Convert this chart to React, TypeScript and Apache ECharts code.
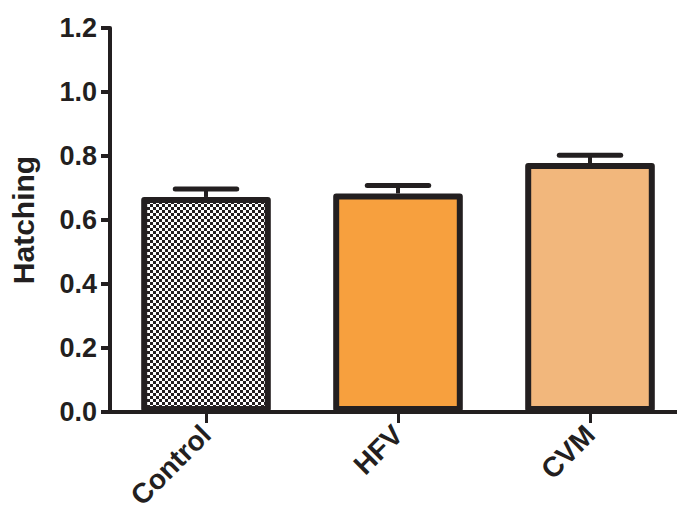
import React, { useEffect, useRef } from "react";
import * as echarts from "echarts";

const categories = ["Control", "HFV", "CVM"];
const means = [0.672, 0.683, 0.778];
const sems = [0.025, 0.025, 0.024];
const barColors = ["pattern", "#f7a03e", "#f2b77c"];
const yMin = 0;
const yMax = 1.2;
const yStep = 0.2;

const INK = "#231f20";
const FONT = "Liberation Sans, Arial, Helvetica, sans-serif";

function makeChecker(): HTMLCanvasElement {
  const c = document.createElement("canvas");
  c.width = 6;
  c.height = 6;
  const ctx = c.getContext("2d")!;
  ctx.fillStyle = "#ffffff";
  ctx.fillRect(0, 0, 6, 6);
  ctx.fillStyle = INK;
  ctx.fillRect(0, 0, 3, 3);
  ctx.fillRect(3, 3, 3, 3);
  return c;
}

export default function App() {
  const ref = useRef<HTMLDivElement>(null);
  useEffect(() => {
    if (!ref.current) return;
    const chart = echarts.init(ref.current, undefined, { renderer: "svg" });
    const checker = makeChecker();
    const barData = means.map((v, i) => ({
      value: v,
      itemStyle: {
        color:
          barColors[i] === "pattern"
            ? ({ image: checker, repeat: "repeat", imageWidth: 6, imageHeight: 6 } as any)
            : barColors[i],
      },
    }));
    const errData = means.map((v, i) => [i, v, sems[i]]);
    chart.setOption({
      animation: false,
      grid: { left: 108, top: 28, width: 578, height: 384, containLabel: false },
      xAxis: {
        type: "category",
        data: categories,
        axisLine: { lineStyle: { color: INK, width: 4 } },
        axisTick: { show: true, alignWithLabel: true, length: 11, lineStyle: { color: INK, width: 3 } },
        axisLabel: {
          rotate: 45,
          fontSize: 28,
          fontWeight: "bold",
          color: INK,
          fontFamily: FONT,
          margin: 18,
        },
      },
      yAxis: {
        type: "value",
        min: yMin,
        max: yMax,
        interval: yStep,
        name: "Hatching",
        nameLocation: "middle",
        nameGap: 72,
        nameTextStyle: {
          fontSize: 30,
          fontWeight: "bold",
          color: INK,
          fontFamily: FONT,
        },
        splitLine: { show: false },
        axisLine: { show: true, lineStyle: { color: INK, width: 4 } },
        axisTick: { show: true, length: 9, lineStyle: { color: INK, width: 4 } },
        axisLabel: {
          fontSize: 27,
          fontWeight: "bold",
          color: INK,
          margin: 13,
          fontFamily: FONT,
          formatter: (v: number) => v.toFixed(1),
        },
      },
      series: [
        {
          type: "bar",
          data: barData,
          barWidth: "67.5%",
          itemStyle: { borderColor: INK, borderWidth: 6, borderJoin: "round" },
          z: 2,
        },
        {
          type: "custom",
          data: errData,
          z: 3,
          renderItem: (params: any, api: any) => {
            const x = api.value(0);
            const v = api.value(1);
            const e = api.value(2);
            const p0 = api.coord([x, v]);
            const p1 = api.coord([x, v + e]);
            const half = api.size([1, 0])[0] * 0.16;
            return {
              type: "group",
              children: [
                {
                  type: "line",
                  shape: { x1: p0[0], y1: p0[1], x2: p1[0], y2: p1[1] },
                  style: { stroke: INK, lineWidth: 4 },
                },
                {
                  type: "line",
                  shape: { x1: p1[0] - half, y1: p1[1], x2: p1[0] + half, y2: p1[1] },
                  style: { stroke: INK, lineWidth: 5, lineCap: "round" },
                },
              ],
            };
          },
        },
      ],
    });
    return () => chart.dispose();
  }, []);
  return (
    <div
      ref={ref}
      style={{ position: "fixed", left: 0, top: 0, width: 700, height: 520, background: "#fff" }}
    />
  );
}
